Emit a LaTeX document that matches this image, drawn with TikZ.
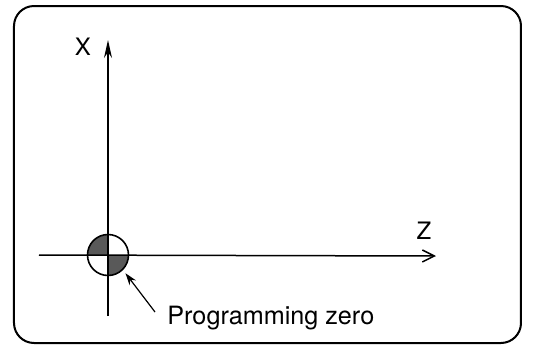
\documentclass[tikz,border=0pt]{standalone}
\usepackage{fontspec}
\setmainfont{TeX Gyre Heros}
\usetikzlibrary{arrows.meta,positioning}

\begin{document}
\begin{tikzpicture}[x=0.5pt,y=-0.5pt,
  frame/.style={draw, line width=1pt, rounded corners=10pt},
  axis/.style={line width=0.75pt},
  axlabel/.style={font=\fontsize{12}{14}\selectfont, inner sep=0pt},
  leader/.style={-{Stealth[length=6pt,width=4pt]}, line width=0.6pt},
  quad/.style={fill=black!65},
]
  \useasboundingbox (0,0) rectangle (548,349);
  \draw[frame] (14,6) rectangle (521,343);

  % origin quadrants
  \coordinate (o) at (108,255);
  \begin{scope}
    \clip (o) circle[radius=10.25pt];
    \fill[quad] (o) rectangle ++(-25,-25);
    \fill[quad] (o) rectangle ++(25,25);
  \end{scope}

  % axes
  \coordinate (xtop) at (108,40);
  \coordinate (xbot) at (108,316);
  \coordinate (zleft) at (39,255);
  \coordinate (zright) at (436,256);
  \draw[axis, -{Stealth[length=9pt,width=4pt]}] (xbot) -- (xtop);
  \draw[axis, -{Straight Barb[length=6pt,width=6pt]}] (zleft) -- (zright);

  \node[circle, draw, line width=0.8pt, minimum size=20.5pt, inner sep=0pt] (zero) at (o) {};

  % labels
  \node[axlabel] (xlbl) at (83,47) {X};
  \node[axlabel] (zlbl) at (424,231) {Z};
  \node[font=\fontsize{12.6}{15}\selectfont, anchor=base west, inner sep=0pt] (lbl) at (167,324) {Programming zero};
  \coordinate (tail) at (155,312);
  \draw[leader, shorten >=2pt] (tail) -- (zero.-45);
\end{tikzpicture}
\end{document}
